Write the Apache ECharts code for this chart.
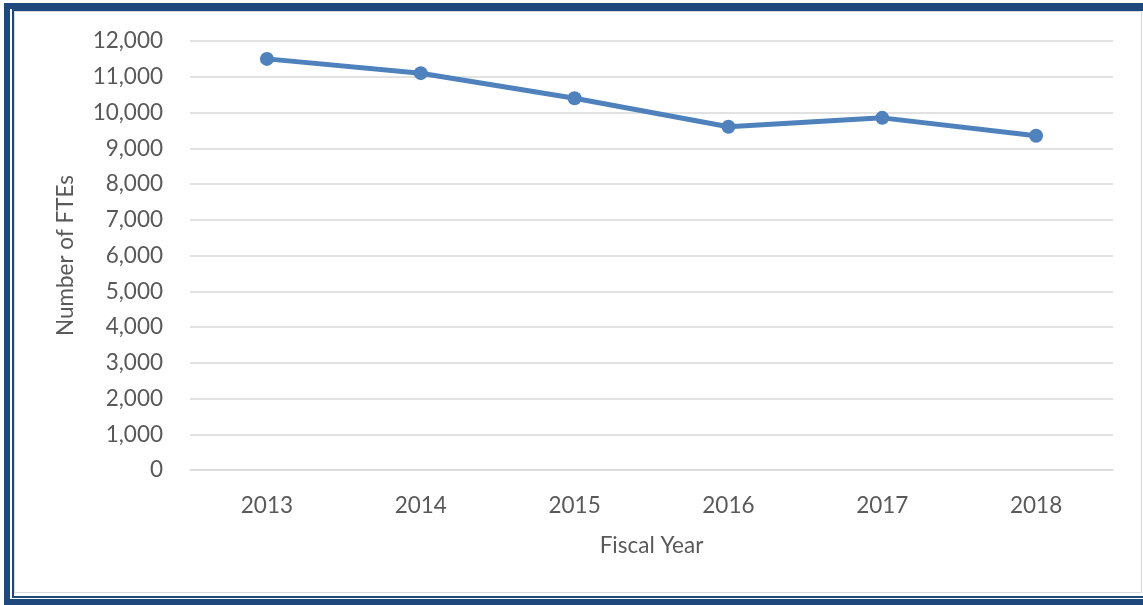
<!DOCTYPE html>
<html><head><meta charset="utf-8">
<script src="https://cdn.jsdelivr.net/npm/echarts@6/dist/echarts.min.js"></script>
<style>
html,body{margin:0;padding:0;background:#fff;width:1143px;height:605px;overflow:hidden}
#outer{position:absolute;left:4px;top:3px;width:1139px;height:602px;box-sizing:border-box;border:6px solid #1F497D;border-right:none}
#inner{position:absolute;left:12px;top:9px;width:1131px;height:589px;box-sizing:border-box;border-left:2px solid #1F497D;border-top:2px solid #1F497D;border-bottom:2px solid #1F497D}
#grey{position:absolute;left:14px;top:11px;width:1128px;height:582px;box-sizing:border-box;border:1px solid #D9D9D9}
#chart{position:absolute;left:0;top:0;width:1143px;height:605px}
</style></head>
<body>
<div id="outer"></div><div id="inner"></div><div id="grey"></div>
<div id="chart"></div>
<script>
const categories = ['2013','2014','2015','2016','2017','2018'];
const ftes = [11500, 11100, 10400, 9600, 9850, 9350];
const chart = echarts.init(document.getElementById('chart'));
const font = 'Lato, "Open Sans", sans-serif';
const fs = 22.5;
chart.setOption({
  animation:false,
  grid:{left:190,right:30,top:41,bottom:135},
  xAxis:{type:'category',data:categories,boundaryGap:true,
    name:'Fiscal Year',nameLocation:'middle',nameGap:64,
    nameTextStyle:{color:'#595959',fontSize:fs,fontFamily:font},
    axisLine:{lineStyle:{color:'#D9D9D9',width:1.5}},axisTick:{show:false},
    axisLabel:{color:'#595959',fontSize:fs,fontFamily:font,margin:24}},
  yAxis:{type:'value',min:0,max:12000,interval:1000,
    name:'Number of FTEs',nameLocation:'middle',nameGap:113,
    nameTextStyle:{color:'#595959',fontSize:fs,fontFamily:font},
    axisLine:{show:false},axisTick:{show:false},
    axisLabel:{color:'#595959',fontSize:fs,fontFamily:font,margin:27,
      formatter:v=>v.toLocaleString('en-US')},
    splitLine:{lineStyle:{color:'#D9D9D9',width:1.5}}},
  series:[{type:'line',data:ftes,symbol:'circle',symbolSize:14,
    lineStyle:{color:'#4F81BD',width:5},itemStyle:{color:'#4F81BD'}}]
});
</script>
</body></html>
